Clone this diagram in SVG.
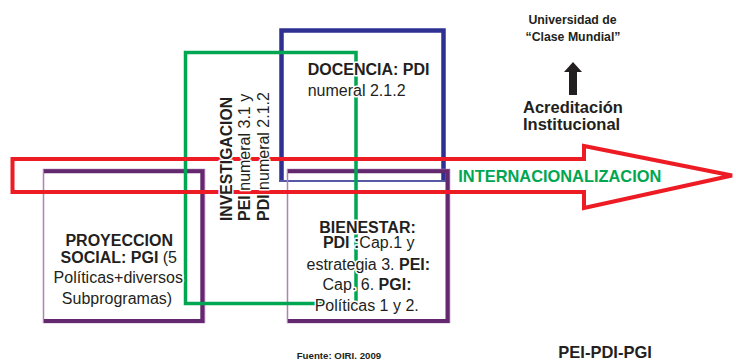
<svg xmlns="http://www.w3.org/2000/svg" width="736" height="360" viewBox="0 0 736 360">
<style>
text{font-family:"Liberation Sans",Arial,sans-serif;fill:#231f20}
.b{font-weight:bold}
.h{stroke:#fff;stroke-width:3;paint-order:stroke;stroke-linejoin:round}
.thin{fill:none;stroke:#b37fb7;stroke-width:1.5}
.thick{fill:none;stroke:#64286e;stroke-width:4}
</style>
<rect width="736" height="360" fill="#fff"/>
<g id="docencia">
<path d="M281.5,182 V30.5 H443.5 V182" fill="none" stroke="#2e3192" stroke-width="4.5"/>
<line x1="279" y1="181" x2="446" y2="181" stroke="#5558a5" stroke-width="2"/>
</g>
<g id="proyeccion">
<rect class="thin" x="43.5" y="169.5" width="161" height="153"/>
<path class="thick" d="M44,171.3 H202.3 V321 H44"/>
</g>
<g id="bienestar">
<rect class="thin" x="287.5" y="169.5" width="162" height="153"/>
<path class="thick" d="M288,171.3 H447.5 V321 H288"/>
</g>
<g id="investigacion">
<rect x="185.5" y="52.5" width="170.5" height="251" fill="none" stroke="#00a651" stroke-width="3.5"/>
</g>
<g id="internacionalizacion">
<polygon points="12.5,159 584,159 584,146 732,175.5 584,208 584,192 12.5,192" fill="none" stroke="#ed1c24" stroke-width="4"/>
</g>
<g id="acreditacion">
<polygon points="573,62 582,72 577,72 577,95 569,95 569,72 564,72" fill="#231f20"/>
</g>
<g id="labels">
<text class="b" x="572.5" y="24" font-size="12.3" text-anchor="middle">Universidad de</text>
<text class="b" x="573" y="40.5" font-size="12.3" text-anchor="middle">“Clase Mundial”</text>
<text class="b" x="523" y="113.3" font-size="16.5">Acreditación</text>
<text class="b" x="523" y="129.5" font-size="16.5">Institucional</text>
<text class="b" x="458.3" y="181.7" font-size="16.4" style="fill:#00a651">INTERNACIONALIZACION</text>
<text class="b h" x="307.7" y="75" font-size="16">DOCENCIA: PDI</text>
<text class="h" x="307.7" y="96" font-size="16">numeral 2.1.2</text>
<g transform="translate(232,221) rotate(-90)">
<text class="b h" x="0" y="0" font-size="16" textLength="124" lengthAdjust="spacingAndGlyphs">INVESTIGACION</text>
<text class="h" x="0" y="18.3" font-size="16"><tspan class="b">PEI</tspan> numeral 3.1 y</text>
<text class="h" x="0" y="36.7" font-size="16"><tspan class="b">PDI</tspan> numeral 2.1.2</text>
</g>
<text class="b h" x="119.2" y="246" font-size="16" text-anchor="middle">PROYECCION</text>
<text class="h" x="118.8" y="262.7" font-size="16" text-anchor="middle"><tspan class="b">SOCIAL: PGI</tspan> (5</text>
<text class="h" x="118.3" y="282.7" font-size="16" text-anchor="middle">Políticas+diversos</text>
<text class="h" x="117" y="304" font-size="16" text-anchor="middle">Subprogramas)</text>
<text class="b h" x="367.5" y="232.7" font-size="16" text-anchor="middle">BIENESTAR:</text>
<text class="h" x="368.7" y="248.3" font-size="16" text-anchor="middle"><tspan class="b">PDI :</tspan>Cap.1 y</text>
<text class="h" x="368.3" y="270" font-size="16" text-anchor="middle">estrategia 3.  <tspan class="b">PEI:</tspan></text>
<text class="h" x="367" y="290" font-size="16" text-anchor="middle">Cap. 6. <tspan class="b">PGI:</tspan></text>
<text class="h" x="366.7" y="310.7" font-size="16" text-anchor="middle">Políticas 1 y 2.</text>
<text class="b" x="296.7" y="358.5" font-size="9.7">Fuente: OIRI. 2009</text>
<text class="b" x="558.3" y="358.3" font-size="16.5">PEI-PDI-PGI</text>
</g>
</svg>
